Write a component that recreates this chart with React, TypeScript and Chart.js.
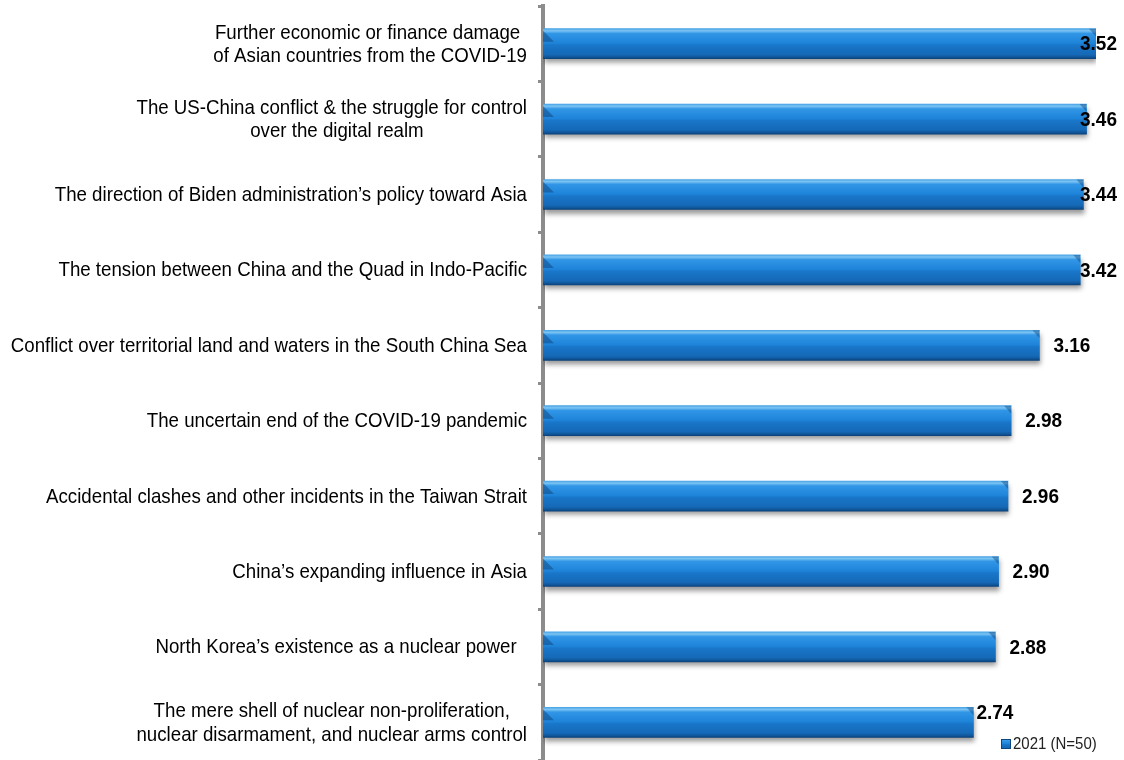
import React, { useEffect, useRef } from "react";
import { Chart, registerables } from "chart.js";

Chart.register(...registerables);

const categories: string[][] = [
  ["Further economic or finance damage ", "of Asian countries from the COVID-19"],
  ["The US-China conflict & the struggle for control", "  over the digital realm"],
  ["The direction of Biden administration\u2019s policy toward Asia"],
  ["The tension between China and the Quad in Indo-Pacific"],
  ["Conflict over territorial land and waters in the South China Sea"],
  ["The uncertain end of the COVID-19 pandemic"],
  ["Accidental clashes and other incidents in the Taiwan Strait"],
  ["China\u2019s expanding influence in Asia"],
  ["North Korea\u2019s existence as a nuclear power  "],
  ["The mere shell of nuclear non-proliferation,", "nuclear disarmament, and nuclear arms control"],
];

const values: number[] = [3.52, 3.46, 3.44, 3.42, 3.16, 2.98, 2.96, 2.9, 2.88, 2.74];

const seriesLabel = "2021 (N=50)";

const FONT = '"Liberation Sans", Arial, sans-serif';
const BAR_HALF = 15;

function barGradient(ctx: CanvasRenderingContext2D, top: number, bottom: number) {
  const g = ctx.createLinearGradient(0, top, 0, bottom);
  g.addColorStop(0, "#4aa5e6");
  g.addColorStop(0.07, "#7cc4f3");
  g.addColorStop(0.16, "#3196e6");
  g.addColorStop(0.48, "#1e84d9");
  g.addColorStop(0.55, "#1976c9");
  g.addColorStop(0.86, "#1569b7");
  g.addColorStop(0.94, "#10579b");
  g.addColorStop(1, "#0b437d");
  return g;
}

function drawStretched(ctx: CanvasRenderingContext2D, txt: string, x: number, y: number, k: number) {
  ctx.save();
  ctx.translate(x, y);
  ctx.scale(1, k);
  ctx.fillText(txt, 0, 0);
  ctx.restore();
}

const shadowPlugin = {
  id: "barShadow",
  beforeDatasetsDraw(chart: any) {
    const ctx = chart.ctx;
    ctx.save();
    ctx.shadowColor = "rgba(0,0,0,0.4)";
    ctx.shadowBlur = 5;
    ctx.shadowOffsetX = 1;
    ctx.shadowOffsetY = 4;
  },
  afterDatasetsDraw(chart: any) {
    const ctx = chart.ctx;
    ctx.restore();
    const meta = chart.getDatasetMeta(0);
    meta.data.forEach((bar: any) => {
      const top = bar.y - BAR_HALF;
      const x0 = bar.base;
      const x1 = bar.x;
      ctx.save();
      ctx.fillStyle = "rgba(10,60,115,0.45)";
      ctx.beginPath();
      ctx.moveTo(x0, top + 2);
      ctx.lineTo(x0 + 11, top + 13);
      ctx.lineTo(x0, top + 13);
      ctx.closePath();
      ctx.fill();
      ctx.fillStyle = "rgba(10,60,115,0.4)";
      ctx.beginPath();
      ctx.moveTo(x1 - 7, top);
      ctx.lineTo(x1, top);
      ctx.lineTo(x1, top + 8);
      ctx.closePath();
      ctx.fill();
      ctx.restore();
    });
  },
};

const labelPlugin = {
  id: "customLabels",
  afterDraw(chart: any) {
    const ctx = chart.ctx;
    const yScale = chart.scales.y;
    const meta = chart.getDatasetMeta(0);
    ctx.save();
    ctx.font = `18.7px ${FONT}`;
    ctx.fillStyle = "#000000";
    ctx.textBaseline = "middle";
    ctx.textAlign = "left";
    const rightEdge = chart.chartArea.left - 16;
    const lineH = 23.5;
    categories.forEach((lines, i) => {
      const cy = yScale.getPixelForTick(i);
      const bw = Math.max(...lines.map((l) => ctx.measureText(l).width));
      const cx = rightEdge - bw / 2;
      lines.forEach((l, j) => {
        const w = ctx.measureText(l).width;
        const y = cy + (j - (lines.length - 1) / 2) * lineH;
        drawStretched(ctx, l, cx - w / 2, y + 1, 1.08);
      });
    });
    ctx.font = `bold 19px ${FONT}`;
    ctx.fillStyle = "#000000";
    const maxRight = 1117;
    meta.data.forEach((bar: any, i: number) => {
      const txt = values[i].toFixed(2);
      const w = ctx.measureText(txt).width;
      let x = Math.min(bar.x + 14, maxRight - w);
      let y = bar.y + 1;
      if (i === values.length - 1) {
        x = bar.x + 3;
        y = bar.y - 9;
      }
      drawStretched(ctx, txt, x, y, 1.1);
    });
    const lx = 1001;
    const ly = 744;
    ctx.fillStyle = barGradient(ctx, ly - 5, ly + 5);
    ctx.fillRect(lx, ly - 5, 10, 10);
    ctx.strokeStyle = "#0c4580";
    ctx.lineWidth = 1;
    ctx.strokeRect(lx + 0.5, ly - 4.5, 9, 9);
    ctx.font = `15px ${FONT}`;
    ctx.fillStyle = "#222222";
    drawStretched(ctx, seriesLabel, lx + 12, ly + 1, 1.08);
    ctx.restore();
  },
};

export default function App() {
  const ref = useRef<HTMLCanvasElement | null>(null);
  useEffect(() => {
    if (!ref.current) return;
    const chart = new Chart(ref.current, {
      type: "bar",
      data: {
        labels: categories,
        datasets: [
          {
            label: seriesLabel,
            data: values,
            backgroundColor: (c: any) => {
              const ch = c.chart;
              const ys = ch.scales && ch.scales.y;
              if (!ys || c.dataIndex === undefined) return "#1f80d6";
              const cy = ys.getPixelForTick(c.dataIndex);
              return barGradient(ch.ctx, cy - BAR_HALF, cy + BAR_HALF);
            },
            borderWidth: 0,
            barThickness: BAR_HALF * 2,
          },
        ],
      },
      options: {
        indexAxis: "y",
        animation: false,
        responsive: false,
        layout: { padding: { top: 6, right: 28, bottom: 0, left: 0 } },
        plugins: {
          legend: { display: false },
          tooltip: { enabled: false },
        },
        scales: {
          x: {
            display: false,
            min: 0,
            max: 3.52,
          },
          y: {
            z: 1,
            ticks: { display: false },
            grid: {
              display: true,
              offset: true,
              drawOnChartArea: false,
              drawTicks: true,
              tickLength: 5,
              color: "#8c8c8c",
              lineWidth: 3,
            },
            border: { display: true, color: "#8c8c8c", width: 4 },
            afterFit: (scale: any) => {
              scale.width = 543;
            },
          },
        },
      },
      plugins: [shadowPlugin, labelPlugin],
    });
    return () => chart.destroy();
  }, []);
  return (
    <div style={{ position: "absolute", left: 0, top: 0, width: 1124, height: 760, background: "#ffffff" }}>
      <canvas ref={ref} width={1124} height={760} style={{ display: "block" }} />
    </div>
  );
}
